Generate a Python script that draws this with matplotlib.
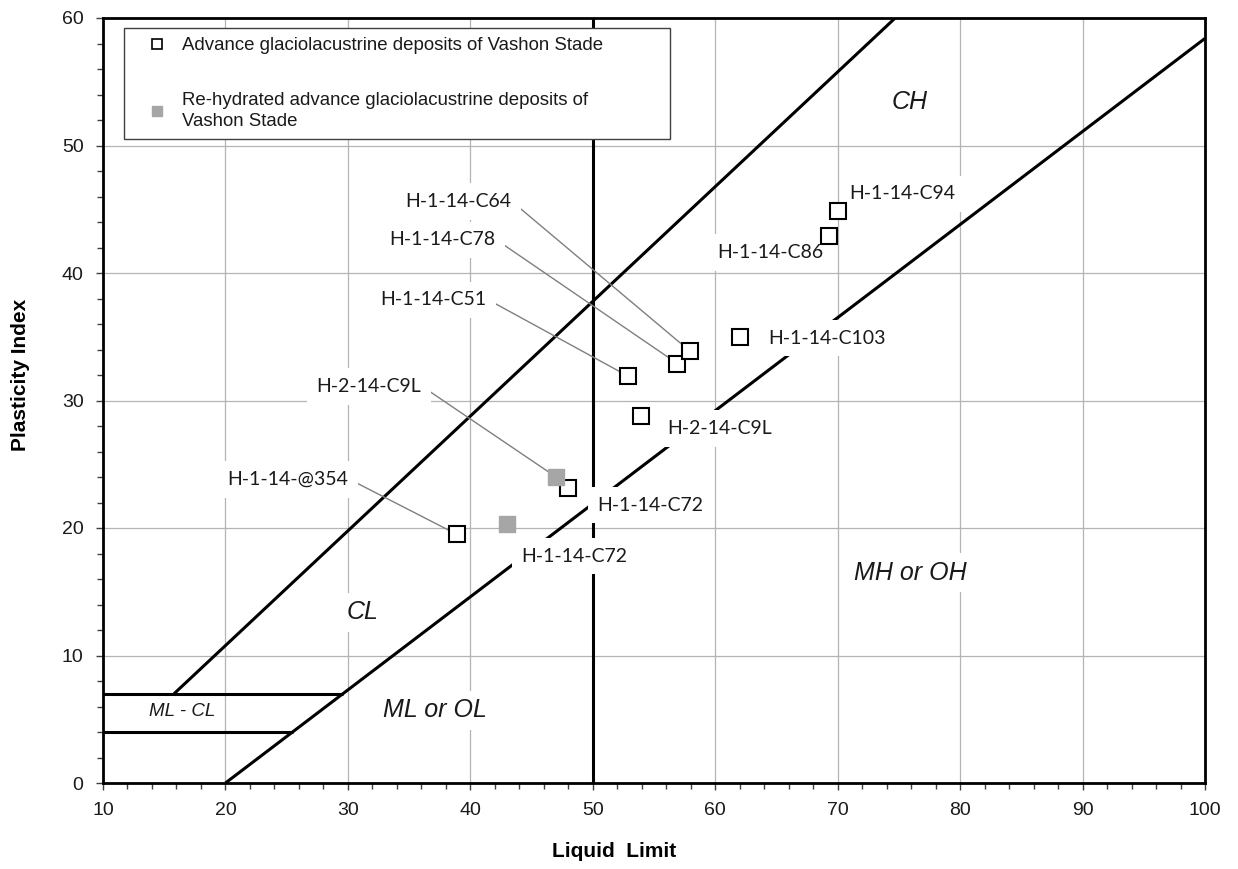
import matplotlib
matplotlib.use('Agg')
import matplotlib.pyplot as plt
from matplotlib.ticker import MultipleLocator
from matplotlib.lines import Line2D

# ---------------- data ----------------
adv_ll = [38.9, 48.0, 52.9, 53.9, 56.9, 57.9, 62.0, 69.3, 70.0]
adv_pi = [19.5, 23.1, 31.9, 28.8, 32.9, 33.9, 35.0, 42.9, 44.9]
rehyd_ll = [43.0, 47.0]
rehyd_pi = [20.3, 24.0]

# sample labels (text, text LL, text PI)
lab_names = ["H-1-14-C64", "H-1-14-C78", "H-1-14-C51", "H-2-14-C9L", "H-1-14-@354",
             "H-1-14-C94", "H-1-14-C86", "H-1-14-C103", "H-2-14-C9L",
             "H-1-14-C72", "H-1-14-C72"]
lab_x = [39.0, 37.7, 37.0, 31.7, 25.1, 75.3, 64.5, 69.1, 60.4, 54.7, 48.5]
lab_y = [45.6, 42.6, 37.9, 31.1, 23.8, 46.2, 41.6, 34.9, 27.8, 21.8, 17.8]
# leader-line targets (LL, PI) for the first five labels
lead_ll = [57.9, 56.9, 52.9, 47.0, 38.9]
lead_pi = [33.9, 32.9, 31.9, 24.0, 19.5]

# plasticity chart reference lines
a_line_ll = [20, 100]
a_line_pi = [0, 58.4]
u_line_ll = [15.8, 74.7]
u_line_pi = [7, 60]
ll50_ll = [50, 50]
ll50_pi = [0, 60]
mlcl7_ll = [10, 29.6]
mlcl7_pi = [7, 7]
mlcl4_ll = [10, 25.5]
mlcl4_pi = [4, 4]

zones = ["CH", "MH or OH", "CL", "ML or OL", "ML - CL"]
zone_x = [75.9, 75.9, 31.2, 37.1, 16.5]
zone_y = [53.4, 16.5, 13.4, 5.7, 5.6]
zone_size = [18, 18, 18, 18, 13.5]

legend_labels = ["Advance glaciolacustrine deposits of Vashon Stade",
                 "Re-hydrated advance glaciolacustrine deposits of\nVashon Stade"]

# ---------------- figure ----------------
fig = plt.figure(figsize=(12.38, 8.69), dpi=100)
ax = fig.add_axes([103/1238, 1-783/869, 1102/1238, 765/869])
ax.set_xlim(10, 100)
ax.set_ylim(0, 60)

ax.xaxis.set_major_locator(MultipleLocator(10))
ax.xaxis.set_minor_locator(MultipleLocator(2))
ax.yaxis.set_major_locator(MultipleLocator(10))
ax.yaxis.set_minor_locator(MultipleLocator(2))
ax.grid(True, which='major', color='#b4b4b4', lw=0.9, zorder=0)
ax.set_axisbelow(True)
ax.tick_params(which='major', direction='out', length=5, width=1, pad=9,
               labelsize=14, color='#404040', labelcolor='#1a1a1a')
ax.tick_params(which='minor', direction='out', length=4, width=1, color='#404040')
for lab in ax.get_xticklabels() + ax.get_yticklabels():
    lab.set_fontfamily('Liberation Sans')
for sp in ax.spines.values():
    sp.set_linewidth(2)
    sp.set_color('black')

lw_ref = 2.2
for xs, ys in [(a_line_ll, a_line_pi), (u_line_ll, u_line_pi), (ll50_ll, ll50_pi),
               (mlcl7_ll, mlcl7_pi), (mlcl4_ll, mlcl4_pi)]:
    ax.plot(xs, ys, color='black', lw=lw_ref, zorder=2, solid_capstyle='butt')

# zone labels
for t, x, y, s in zip(zones, zone_x, zone_y, zone_size):
    ax.text(x, y, t, fontsize=s, style='italic', family='Liberation Sans',
            ha='center', va='center', color='#1a1a1a', zorder=3,
            bbox=dict(boxstyle='square,pad=0.3', fc='white', ec='none'))

# sample labels with optional leader lines
for i, (t, x, y) in enumerate(zip(lab_names, lab_x, lab_y)):
    bbox = dict(boxstyle='square,pad=0.5', fc='white', ec='none')
    if i < len(lead_ll):
        ax.annotate(t, xy=(lead_ll[i], lead_pi[i]), xytext=(x, y),
                    fontsize=14, family='Lato', ha='center', va='center',
                    color='#1a1a1a', bbox=bbox, zorder=5,
                    arrowprops=dict(arrowstyle='-', color='#7f7f7f', lw=1,
                                    relpos=(1.0, 0.55), patchA=None,
                                    shrinkA=0, shrinkB=7))
    else:
        ax.text(x, y, t, fontsize=14, family='Lato', ha='center', va='center',
                color='#1a1a1a', bbox=bbox, zorder=5)

# data points
ax.plot(adv_ll, adv_pi, ls='none', marker='s', ms=11.5, mfc='white',
        mec='black', mew=1.5, zorder=6)
ax.plot(rehyd_ll, rehyd_pi, ls='none', marker='s', ms=11.5, mfc='#a6a6a6',
        mec='#a6a6a6', mew=1.0, zorder=6)

# legend
handles = [Line2D([], [], ls='none', marker='s', ms=7, mfc='white', mec='black', mew=1.2),
           Line2D([], [], ls='none', marker='s', ms=7, mfc='#a6a6a6', mec='#a6a6a6')]
x0 = (124-103)/1102
y1 = (783-28)/765
w = (670-124)/1102
leg = ax.legend(handles, legend_labels, loc='upper left',
                bbox_to_anchor=(x0, y1 - 0.2, w, 0.2), mode='expand',
                borderaxespad=0, frameon=True, fancybox=False, framealpha=1,
                edgecolor='#404040', prop={'family': 'Liberation Sans', 'size': 13.4},
                borderpad=0.5, labelspacing=2.0, handlelength=2.5, handletextpad=0.1)
leg.get_frame().set_linewidth(1)
for t in leg.get_texts():
    t.set_color('#1a1a1a')
    t.set_linespacing(1.35)
leg.set_zorder(7)

ax.set_xlabel("Liquid  Limit", fontsize=15, fontweight='bold', family='Liberation Sans')
ax.set_ylabel("Plasticity Index", fontsize=15, fontweight='bold', family='Liberation Sans')
ax.xaxis.set_label_coords((614-103)/1102, (783-842)/765)
ax.yaxis.set_label_coords(-0.066, (783-375)/765)

fig.savefig('out.png', dpi=100)
